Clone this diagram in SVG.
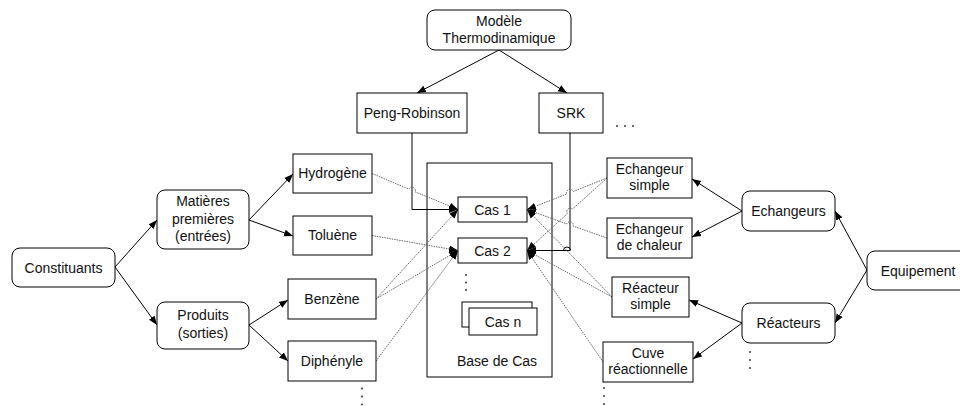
<svg xmlns="http://www.w3.org/2000/svg" width="960" height="406" viewBox="0 0 960 406">
  <style>
    .box { fill: #fff; stroke: #000; stroke-width: 1; }
    .frame { fill: none; stroke: #000; stroke-width: 1; }
    .lbl { font-family: "Liberation Sans", Arial, sans-serif; font-size: 14px; fill: #111; text-anchor: middle; }
    .link { fill: none; stroke: #000; stroke-width: 1; }
    .ref { fill: none; stroke: #666; stroke-width: 1; stroke-dasharray: 1.5 1; }
    .dot { fill: #222; }
  </style>
  <defs>
    <marker id="arrow" markerUnits="userSpaceOnUse" markerWidth="10" markerHeight="8" refX="9" refY="4" orient="auto">
      <path d="M0,0.5 L9,4 L0,7.5 z" fill="#000"/>
    </marker>
  </defs>
  <rect width="960" height="406" fill="#fff"/>

  <!-- case base container (open, connectors run across it) -->
  <g id="base-de-cas">
    <rect class="frame" x="427" y="163" width="125" height="214"/>
    <text class="lbl" x="497" y="366">Base de Cas</text>
  </g>

  <!-- connectors -->
  <g id="connectors">
    <!-- thermodynamic model tree -->
    <path class="link" d="M499,50 L417,93" marker-end="url(#arrow)"/>
    <path class="link" d="M499,50 L567,93" marker-end="url(#arrow)"/>
    <!-- constituents tree -->
    <path class="link" d="M115,267 L157,220" marker-end="url(#arrow)"/>
    <path class="link" d="M115,267 L157,325" marker-end="url(#arrow)"/>
    <path class="link" d="M249,220 L293,174" marker-end="url(#arrow)"/>
    <path class="link" d="M249,220 L293,236" marker-end="url(#arrow)"/>
    <path class="link" d="M249,325 L288,300" marker-end="url(#arrow)"/>
    <path class="link" d="M249,325 L288,361" marker-end="url(#arrow)"/>
    <!-- equipment tree -->
    <path class="link" d="M867,270 L835,211" marker-end="url(#arrow)"/>
    <path class="link" d="M867,270 L835,323" marker-end="url(#arrow)"/>
    <path class="link" d="M742,211 L692,179" marker-end="url(#arrow)"/>
    <path class="link" d="M742,211 L692,237" marker-end="url(#arrow)"/>
    <path class="link" d="M742,323 L689,300" marker-end="url(#arrow)"/>
    <path class="link" d="M742,323 L693,359" marker-end="url(#arrow)"/>
    <!-- model to cases -->
    <path class="link" d="M412,133 V209.5 H458" marker-end="url(#arrow)"/>
    <path class="link" d="M570,133 V250.5 H527" marker-end="url(#arrow)"/>
    <path class="link" d="M563.5,250.5 a3.5,3.5 0 0 1 7,0"/>

    <!-- constituents to cases (dotted) -->
    <path class="ref" d="M372,173.5 L408.8,189.1 A3.5,3.5 0 0 1 415.2,191.9 L458,209.5" marker-end="url(#arrow)"/>
    <path class="ref" d="M376,299 L458,209.5" marker-end="url(#arrow)"/>
    <path class="ref" d="M372,235.5 L458,250.5" marker-end="url(#arrow)"/>
    <path class="ref" d="M376,299 L458,250.5" marker-end="url(#arrow)"/>
    <path class="ref" d="M376,361 L458,250.5" marker-end="url(#arrow)"/>

    <!-- equipment to cases (dotted) -->
    <path class="ref" d="M607,178 L573.25,191.5 A3.5,3.5 0 0 0 566.75,194.1 L527,209.5" marker-end="url(#arrow)"/>
    <path class="ref" d="M607,178 L572.6,209 A3.5,3.5 0 0 0 567.4,213.6 L527,250.5" marker-end="url(#arrow)"/>
    <path class="ref" d="M607,238 L573.3,226.2 A3.5,3.5 0 0 0 566.7,223.9 L527,209.5" marker-end="url(#arrow)"/>
    <path class="ref" d="M612,297 L527,209.5" marker-end="url(#arrow)"/>
    <path class="ref" d="M612,297 L527,250.5" marker-end="url(#arrow)"/>
    <path class="ref" d="M603,362 L527,250.5" marker-end="url(#arrow)"/>
  </g>

  <!-- thermodynamic models -->
  <g id="modele">
    <rect class="box" x="427" y="10" width="144" height="40" rx="8"/>
    <text class="lbl" x="499" y="26">Modèle</text>
    <text class="lbl" x="499" y="42.5">Thermodinamique</text>
  </g>
  <g id="peng-robinson">
    <rect class="box" x="357" y="93" width="110" height="40"/>
    <text class="lbl" x="412" y="118">Peng-Robinson</text>
  </g>
  <g id="srk">
    <rect class="box" x="539" y="93" width="64" height="40"/>
    <text class="lbl" x="571" y="118">SRK</text>
  </g>
  <g id="more-models">
    <circle class="dot" cx="617" cy="126" r="0.9"/>
    <circle class="dot" cx="625" cy="126" r="0.9"/>
    <circle class="dot" cx="633" cy="126" r="0.9"/>
  </g>

  <!-- constituents -->
  <g id="constituants">
    <rect class="box" x="12" y="248" width="103" height="39" rx="8"/>
    <text class="lbl" x="63.5" y="272.5">Constituants</text>
  </g>
  <g id="matieres">
    <rect class="box" x="157" y="190" width="92" height="59" rx="8"/>
    <text class="lbl" x="203" y="206">Matières</text>
    <text class="lbl" x="203" y="223.5">premières</text>
    <text class="lbl" x="203" y="241">(entrées)</text>
  </g>
  <g id="produits">
    <rect class="box" x="157" y="302" width="92" height="47" rx="8"/>
    <text class="lbl" x="203" y="320">Produits</text>
    <text class="lbl" x="203" y="337.5">(sorties)</text>
  </g>
  <g id="hydrogene">
    <rect class="box" x="293" y="154" width="79" height="39"/>
    <text class="lbl" x="332.5" y="178">Hydrogène</text>
  </g>
  <g id="toluene">
    <rect class="box" x="293" y="216" width="79" height="39"/>
    <text class="lbl" x="332.5" y="240">Toluène</text>
  </g>
  <g id="benzene">
    <rect class="box" x="288" y="279" width="88" height="40"/>
    <text class="lbl" x="332" y="304">Benzène</text>
  </g>
  <g id="diphenyle">
    <rect class="box" x="288" y="341" width="88" height="40"/>
    <text class="lbl" x="332" y="366">Diphényle</text>
  </g>
  <g id="more-constituants">
    <circle class="dot" cx="362" cy="388.5" r="0.9"/>
    <circle class="dot" cx="362" cy="396.5" r="0.9"/>
    <circle class="dot" cx="362" cy="404.5" r="0.9"/>
  </g>

  <!-- cases -->
  <g id="cas-1">
    <rect class="box" x="458" y="197" width="69" height="25"/>
    <text class="lbl" x="492.5" y="214.5">Cas 1</text>
  </g>
  <g id="cas-2">
    <rect class="box" x="458" y="238" width="69" height="25"/>
    <text class="lbl" x="492.5" y="255.5">Cas 2</text>
  </g>
  <g id="more-cases">
    <circle class="dot" cx="466" cy="275" r="0.9"/>
    <circle class="dot" cx="466" cy="282.5" r="0.9"/>
    <circle class="dot" cx="466" cy="290" r="0.9"/>
  </g>
  <g id="cas-n">
    <rect class="box" x="462" y="302" width="70" height="25"/>
    <rect class="box" x="469" y="308" width="68" height="27"/>
    <text class="lbl" x="503" y="326.5">Cas n</text>
  </g>

  <!-- equipment -->
  <g id="echangeur-simple">
    <rect class="box" x="607" y="158" width="85" height="40"/>
    <text class="lbl" x="649.5" y="174">Echangeur</text>
    <text class="lbl" x="649.5" y="190">simple</text>
  </g>
  <g id="echangeur-chaleur">
    <rect class="box" x="607" y="218" width="85" height="40"/>
    <text class="lbl" x="649.5" y="234">Echangeur</text>
    <text class="lbl" x="649.5" y="250">de chaleur</text>
  </g>
  <g id="reacteur-simple">
    <rect class="box" x="612" y="277" width="77" height="40"/>
    <text class="lbl" x="650.5" y="293">Réacteur</text>
    <text class="lbl" x="650.5" y="309">simple</text>
  </g>
  <g id="cuve">
    <rect class="box" x="603" y="342" width="90" height="40"/>
    <text class="lbl" x="648" y="358">Cuve</text>
    <text class="lbl" x="648" y="374">réactionnelle</text>
  </g>
  <g id="more-reactors">
    <circle class="dot" cx="604" cy="388" r="0.9"/>
    <circle class="dot" cx="604" cy="396" r="0.9"/>
    <circle class="dot" cx="604" cy="404" r="0.9"/>
  </g>
  <g id="echangeurs">
    <rect class="box" x="742" y="191" width="93" height="40" rx="8"/>
    <text class="lbl" x="788.5" y="215.5">Echangeurs</text>
  </g>
  <g id="reacteurs">
    <rect class="box" x="742" y="303" width="93" height="40" rx="8"/>
    <text class="lbl" x="788.5" y="327.5">Réacteurs</text>
  </g>
  <g id="more-equipment">
    <circle class="dot" cx="750" cy="352" r="0.9"/>
    <circle class="dot" cx="750" cy="360" r="0.9"/>
    <circle class="dot" cx="750" cy="368" r="0.9"/>
  </g>
  <g id="equipement">
    <rect class="box" x="867" y="251" width="105" height="39" rx="8"/>
    <text class="lbl" x="918" y="275.5">Equipement</text>
  </g>
</svg>
